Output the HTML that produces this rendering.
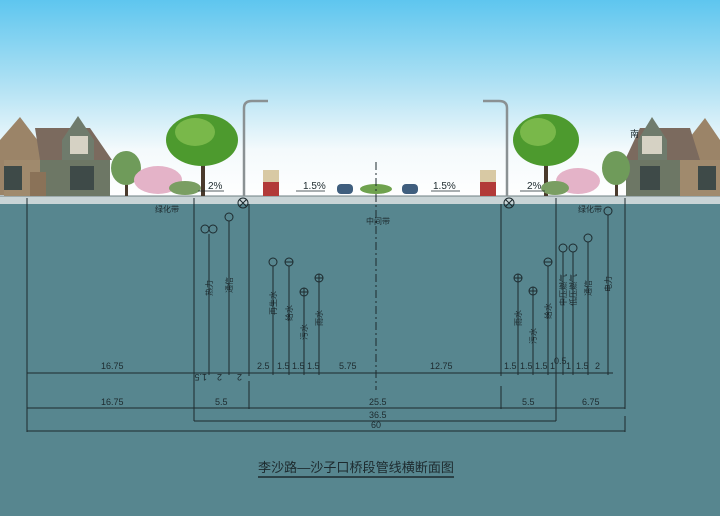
<!DOCTYPE html>
<html><head><meta charset="utf-8"><style>
html,body{margin:0;padding:0;width:720px;height:516px;overflow:hidden;background:#57868f}
svg{display:block}
text{font-family:"Liberation Sans","Noto Sans CJK SC",sans-serif;fill:#1d2a2e}
</style></head><body>
<svg width="720" height="516" viewBox="0 0 720 516" xmlns="http://www.w3.org/2000/svg">
<defs>
<linearGradient id="sky" x1="0" y1="0" x2="0" y2="1">
<stop offset="0" stop-color="#5ec6ef"/><stop offset="0.45" stop-color="#b5e3f4"/><stop offset="0.75" stop-color="#f4fafc"/><stop offset="1" stop-color="#ffffff"/>
</linearGradient>
</defs>
<rect x="0" y="0" width="720" height="200" fill="url(#sky)"/>
<rect x="0" y="196" width="720" height="8" fill="#c9d4d6"/>
<rect x="0" y="204" width="720" height="312" fill="#57868f"/>
<line x1="0" y1="196" x2="720" y2="196" stroke="#6f7f83" stroke-width="1"/>
<!-- left house -->
<g>
<polygon points="0,140 20,117 45,150 45,195 0,195" fill="#9b8468"/>
<polygon points="35,128 90,128 112,160 40,160" fill="#7b6a5e"/>
<polygon points="62,140 78,116 94,140 94,160 62,160" fill="#6f7b6c"/>
<rect x="38" y="160" width="72" height="36" fill="#6d7765"/>
<rect x="4" y="160" width="36" height="36" fill="#a08a6d"/>
<rect x="30" y="172" width="16" height="24" fill="#8a7258"/>
<rect x="70" y="136" width="18" height="18" fill="#d6d2c4"/>
<rect x="70" y="166" width="24" height="24" fill="#3e4a48"/>
<rect x="4" y="166" width="18" height="24" fill="#3e4a48"/>
</g>
<!-- right house -->
<g>
<polygon points="720,140 705,118 680,150 680,195 720,195" fill="#9b8468"/>
<polygon points="640,128 690,128 700,160 625,160" fill="#7b6a5e"/>
<polygon points="638,140 652,117 667,140 667,160 638,160" fill="#6f7b6c"/>
<rect x="626" y="160" width="56" height="36" fill="#6d7765"/>
<rect x="680" y="160" width="40" height="36" fill="#a08a6d"/>
<rect x="642" y="136" width="20" height="18" fill="#d6d2c4"/>
<rect x="640" y="166" width="20" height="24" fill="#3e4a48"/>
<rect x="698" y="166" width="18" height="24" fill="#3e4a48"/>
<text x="630" y="137" font-size="9">南</text>
</g>
<!-- trees -->
<g>
<rect x="201" y="150" width="4" height="46" fill="#4a3a2c"/>
<ellipse cx="202" cy="140" rx="36" ry="26" fill="#4d9a2e"/>
<ellipse cx="195" cy="132" rx="20" ry="14" fill="#79b84a"/>
<rect x="125" y="170" width="3" height="26" fill="#4a3a2c"/>
<ellipse cx="126" cy="168" rx="15" ry="17" fill="#6f9b5a"/>
<ellipse cx="158" cy="180" rx="24" ry="14" fill="#e4b3c8"/>
<ellipse cx="185" cy="188" rx="16" ry="7" fill="#7a9e62"/>
<rect x="544" y="150" width="4" height="46" fill="#4a3a2c"/>
<ellipse cx="546" cy="140" rx="33" ry="26" fill="#4d9a2e"/>
<ellipse cx="538" cy="132" rx="18" ry="14" fill="#79b84a"/>
<ellipse cx="578" cy="181" rx="22" ry="13" fill="#e4b3c8"/>
<rect x="615" y="170" width="3" height="26" fill="#4a3a2c"/>
<ellipse cx="616" cy="168" rx="14" ry="17" fill="#6f9b5a"/>
<ellipse cx="555" cy="188" rx="14" ry="7" fill="#7a9e62"/>
<ellipse cx="376" cy="189" rx="16" ry="5" fill="#6fa24e"/>
</g>
<g stroke="#8a9193" fill="none" stroke-width="2.5">
<path d="M244,196 V108 Q244,101 252,101 H268"/>
<path d="M507,196 V108 Q507,101 499,101 H483"/>
</g>
<rect x="263" y="170" width="16" height="26" fill="#b23a38"/><rect x="263" y="170" width="16" height="12" fill="#d8c9a4"/>
<rect x="480" y="170" width="16" height="26" fill="#b23a38"/><rect x="480" y="170" width="16" height="12" fill="#d8c9a4"/>
<rect x="337" y="184" width="16" height="10" rx="4" fill="#3f5e7e"/>
<rect x="402" y="184" width="16" height="10" rx="4" fill="#3f5e7e"/>
<g font-size="10">
<text x="208" y="189">2%</text><text x="303" y="189">1.5%</text>
<text x="433" y="189">1.5%</text><text x="527" y="189">2%</text>
</g>
<g stroke="#1d2a2e" stroke-width="0.8"><line x1="198" y1="191" x2="224" y2="191"/><line x1="296" y1="191" x2="325" y2="191"/><line x1="431" y1="191" x2="460" y2="191"/><line x1="520" y1="191" x2="545" y2="191"/></g>
<line x1="376" y1="162" x2="376" y2="390" stroke="#1d2a2e" stroke-width="1" stroke-dasharray="8,3,2,3"/>
<g stroke="#1d2a2e" stroke-width="1" fill="none">
<line x1="27" y1="198" x2="27" y2="432"/>
<line x1="194" y1="198" x2="194" y2="421"/>
<line x1="249" y1="204" x2="249" y2="376"/>
<line x1="249" y1="381" x2="249" y2="409"/>
<line x1="501" y1="204" x2="501" y2="376"/>
<line x1="501" y1="386" x2="501" y2="409"/>
<line x1="556" y1="198" x2="556" y2="421"/>
<line x1="625" y1="198" x2="625" y2="409"/>
<line x1="625" y1="416" x2="625" y2="432"/>
<line x1="27" y1="373" x2="613" y2="373"/>
<line x1="27" y1="408" x2="625" y2="408"/>
<line x1="194" y1="421" x2="556" y2="421"/>
<line x1="27" y1="431" x2="625" y2="431"/>
<line x1="209" y1="234" x2="209" y2="373"/>
<line x1="229" y1="221" x2="229" y2="373"/>
<line x1="273" y1="266" x2="273" y2="373"/>
<line x1="289" y1="266" x2="289" y2="373"/>
<line x1="304" y1="296" x2="304" y2="373"/>
<line x1="319" y1="282" x2="319" y2="373"/>
<line x1="518" y1="282" x2="518" y2="373"/>
<line x1="533" y1="295" x2="533" y2="373"/>
<line x1="548" y1="266" x2="548" y2="373"/>
<line x1="563" y1="252" x2="563" y2="373"/>
<line x1="573" y1="252" x2="573" y2="373"/>
<line x1="588" y1="242" x2="588" y2="373"/>
<line x1="608" y1="215" x2="608" y2="373"/>
<circle cx="205" cy="229" r="4"/><circle cx="213" cy="229" r="4"/>
<circle cx="229" cy="217" r="4"/>
<circle cx="273" cy="262" r="4"/><circle cx="289" cy="262" r="4"/>
<circle cx="304" cy="292" r="4"/><circle cx="319" cy="278" r="4"/>
<circle cx="518" cy="278" r="4"/><circle cx="533" cy="291" r="4"/>
<circle cx="548" cy="262" r="4"/><circle cx="563" cy="248" r="4"/>
<circle cx="573" cy="248" r="4"/><circle cx="588" cy="238" r="4"/>
<circle cx="608" cy="211" r="4"/>
<circle cx="243" cy="203" r="5"/><circle cx="509" cy="203" r="5"/>
<path d="M239.5,199.5l7,7M246.5,199.5l-7,7M505.5,199.5l7,7M512.5,199.5l-7,7"/>
<path d="M304,288v8M300,292h8M319,274v8M315,278h8M518,274v8M514,278h8M533,287v8M529,291h8M285,262h8M544,262h8"/>
<path d="M209,371v4M229,371v4M249,371v4M273,371v4M289,371v4M304,371v4M319,371v4M518,371v4M533,371v4M548,371v4M556,371v4M563,371v4M573,371v4M588,371v4M608,371v4"/>
</g>
<g font-size="8">
<text x="155" y="212">绿化带</text><text x="366" y="224">中间带</text><text x="578" y="212">绿化带</text>
</g>
<g font-size="8" text-anchor="middle">
<text transform="translate(212,288) rotate(-90)">热力</text>
<text transform="translate(232,285) rotate(-90)">通信</text>
<text transform="translate(276,303) rotate(-90)">再生水</text>
<text transform="translate(292,313) rotate(-90)">给水</text>
<text transform="translate(307,332) rotate(-90)">污水</text>
<text transform="translate(322,318) rotate(-90)">雨水</text>
<text transform="translate(521,318) rotate(-90)">雨水</text>
<text transform="translate(536,336) rotate(-90)">污水</text>
<text transform="translate(551,311) rotate(-90)">给水</text>
<text transform="translate(566,290) rotate(-90)">中压燃气</text>
<text transform="translate(576,290) rotate(-90)">低压燃气</text>
<text transform="translate(591,288) rotate(-90)">通信</text>
<text transform="translate(611,284) rotate(-90)">电力</text>
</g>
<g font-size="9">
<text x="101" y="369">16.75</text><text x="257" y="369">2.5</text><text x="277" y="369">1.5</text><text x="292" y="369">1.5</text><text x="307" y="369">1.5</text>
<text x="339" y="369">5.75</text><text x="430" y="369">12.75</text>
<text x="504" y="369">1.5</text><text x="520" y="369">1.5</text><text x="535" y="369">1.5</text><text x="550" y="369">1</text>
<text x="554" y="364">0.5</text><text x="566" y="369">1</text><text x="576" y="369">1.5</text><text x="595" y="369">2</text>
<text x="197" y="380" transform="rotate(180 202 377)">1.5</text>
<text x="216" y="380" transform="rotate(180 219 377)">2</text>
<text x="236" y="380" transform="rotate(180 239 377)">2</text>
<text x="101" y="405">16.75</text><text x="215" y="405">5.5</text><text x="369" y="405">25.5</text>
<text x="522" y="405">5.5</text><text x="582" y="405">6.75</text>
<text x="369" y="418">36.5</text><text x="371" y="428">60</text>
</g>
<text x="258" y="472" font-size="13" textLength="196" lengthAdjust="spacingAndGlyphs">李沙路—沙子口桥段管线横断面图</text>
<line x1="258" y1="477" x2="454" y2="477" stroke="#1d2a2e" stroke-width="1.5"/>
</svg>
</body></html>
